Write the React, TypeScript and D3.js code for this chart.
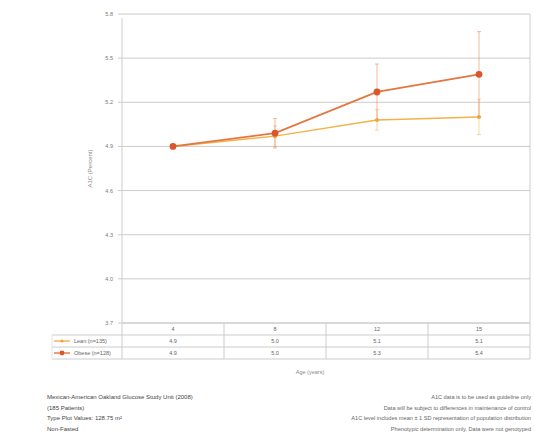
import React from "react";
import * as d3 from "d3";

const ages = ["4", "8", "12", "15"];
const leanValues = [4.9, 4.97, 5.08, 5.1];
const obeseValues = [4.9, 4.99, 5.27, 5.39];
const leanErr = [0, 0.07, 0.07, 0.12];
const obeseErr = [0, 0.1, 0.19, 0.29];
const yTicks = [3.7, 4.0, 4.3, 4.6, 4.9, 5.2, 5.5, 5.8];
const seriesNames = ["Lean (n=135)", "Obese (n=128)"];
const leftNotes = [
  "Mexican-American Oakland Glucose Study Unit (2008)",
  "(185 Patients)",
  "Type Plot Values: 128.75 m²",
  "Non-Fasted",
];
const rightNotes = [
  "A1C data is to be used as guideline only",
  "Data will be subject to differences in maintenance of control",
  "A1C level includes mean ± 1 SD representation of population distribution",
  "Phenotypic determination only. Data were not genotyped",
];

const W = 534, H = 439;
const L = 122, R = 530, T = 14, B = 323;
const FONT = "Liberation Sans, Arial, sans-serif";

export default function App() {
  const x = d3.scaleBand<string>().domain(ages).range([L, R]);
  const y = d3.scaleLinear().domain([3.7, 5.8]).range([B, T]);
  const cx = (a: string) => (x(a) as number) + x.bandwidth() / 2;
  const line = d3.line<number>().x((_, i) => cx(ages[i])).y((v) => y(v));
  const series = [
    { name: seriesNames[0], vals: leanValues, err: leanErr, color: "#f3b24a", lw: 1.5, r: 2, mark: "#eea53a" },
    { name: seriesNames[1], vals: obeseValues, err: obeseErr, color: "#e5763f", lw: 1.8, r: 3.4, mark: "#da562c" },
  ];
  const rowH = 12;
  return (
    <svg width={W} height={H} style={{ position: "absolute", left: 0, top: 0, background: "#fff" }} fontFamily={FONT}>
      {yTicks.map((t) => (
        <g key={t}>
          <line x1={L - 4} x2={R} y1={y(t)} y2={y(t)} stroke="#cccccc" strokeWidth={1} />
          <text x={L - 9} y={y(t) + 2} fontSize={5.5} textAnchor="end" fill="#777">{t.toFixed(1)}</text>
        </g>
      ))}
      <line x1={L} x2={L} y1={T + 4} y2={B + rowH * 3} stroke="#cccccc" />
      <line x1={R} x2={R} y1={T} y2={B + rowH * 3} stroke="#cccccc" />
      <text transform={`translate(92,${(T + B) / 2}) rotate(-90)`} fontSize={6} textAnchor="middle" fill="#888">A1C (Percent)</text>
      {series.map((s) => (
        <g key={s.name}>
          {s.vals.map((v, i) =>
            s.err[i] > 0 ? (
              <g key={i}>
                <line x1={cx(ages[i])} x2={cx(ages[i])} y1={y(v - s.err[i])} y2={y(v + s.err[i])} stroke={s.color} strokeOpacity={0.5} strokeWidth={1} />
                <line x1={cx(ages[i]) - 2} x2={cx(ages[i]) + 2} y1={y(v - s.err[i])} y2={y(v - s.err[i])} stroke={s.color} strokeOpacity={0.5} />
                <line x1={cx(ages[i]) - 2} x2={cx(ages[i]) + 2} y1={y(v + s.err[i])} y2={y(v + s.err[i])} stroke={s.color} strokeOpacity={0.5} />
              </g>
            ) : null
          )}
        </g>
      ))}
      {series.map((s) => (
        <g key={s.name + "l"}>
          <path d={line(s.vals) as string} fill="none" stroke={s.color} strokeWidth={s.lw} />
          {s.vals.map((v, i) => (
            <circle key={i} cx={cx(ages[i])} cy={y(v)} r={s.r} fill={s.mark} />
          ))}
        </g>
      ))}
      {[0, 1, 2, 3].map((k) => (
        <line key={k} x1={k === 0 ? L : 52} x2={R} y1={B + k * rowH} y2={B + k * rowH} stroke="#cccccc" />
      ))}
      <line x1={52} x2={52} y1={B + rowH} y2={B + rowH * 3} stroke="#e4e4e4" />
      {ages.slice(1).map((a) => (
        <line key={a} x1={x(a) as number} x2={x(a) as number} y1={B} y2={B + rowH * 3} stroke="#cccccc" />
      ))}
      {ages.map((a) => (
        <text key={a} x={cx(a)} y={B + 8} fontSize={5.5} textAnchor="middle" fill="#666">{a}</text>
      ))}
      {series.map((s, r) => (
        <g key={s.name + "t"}>
          <line x1={54} x2={70} y1={B + rowH * (r + 1) + 6} y2={B + rowH * (r + 1) + 6} stroke={s.color} strokeWidth={1.4} />
          <circle cx={62} cy={B + rowH * (r + 1) + 6} r={r === 0 ? 1.6 : 2.4} fill={s.mark} />
          <text x={74} y={B + rowH * (r + 1) + 8} fontSize={5.5} fill="#666">{s.name}</text>
          {s.vals.map((v, i) => (
            <text key={i} x={cx(ages[i])} y={B + rowH * (r + 1) + 8} fontSize={5.5} textAnchor="middle" fill="#666">{v.toFixed(1)}</text>
          ))}
        </g>
      ))}
      <text x={310} y={374} fontSize={5.5} textAnchor="middle" fill="#888">Age (years)</text>
      {leftNotes.map((t, i) => (
        <text key={t} x={47} y={399 + i * 10.5} fontSize={6} fill="#444">{t}</text>
      ))}
      {rightNotes.map((t, i) => (
        <text key={t} x={531} y={399 + i * 10.5} fontSize={5.6} textAnchor="end" fill="#666">{t}</text>
      ))}
    </svg>
  );
}
